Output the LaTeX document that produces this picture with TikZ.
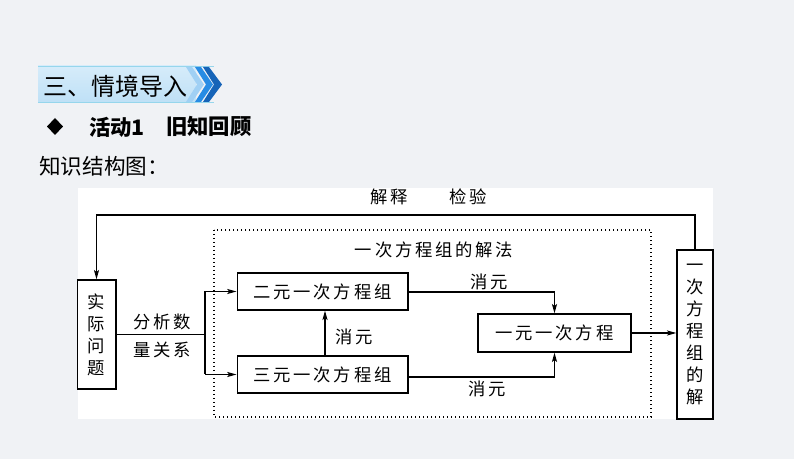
\documentclass[tikz,border=0pt]{standalone}
\usepackage{fontspec}
\setmainfont{Noto Sans CJK SC}
\newfontfamily\cjksp[LetterSpace=16]{Noto Sans CJK SC}
\newfontfamily\cjk{Noto Sans CJK SC}
\usetikzlibrary{arrows.meta}
\definecolor{bgc}{RGB}{240,242,245}
\definecolor{bannerA}{RGB}{214,236,250}
\definecolor{bannerB}{RGB}{190,224,246}
\definecolor{bannerline}{RGB}{150,214,236}
\definecolor{chevA}{RGB}{160,208,244}
\definecolor{chevB}{RGB}{40,140,228}
\definecolor{chevC}{RGB}{22,100,184}
\tikzset{
  box/.style={draw, line width=1pt, fill=white, inner sep=0pt, align=center,
    font=\cjksp\fontsize{13}{16.5}\selectfont},
  vbox/.style={draw, line width=1pt, fill=white, inner sep=0pt, align=center,
    font=\cjk\fontsize{13}{16.5}\selectfont},
  lbl/.style={inner sep=0pt, font=\cjksp\fontsize{13}{16.5}\selectfont},
  conn/.style={line width=0.8pt},
  arr/.style={line width=0.8pt, -{Stealth[length=7pt,width=3.8pt,inset=1.5pt]}},
}
\begin{document}
\begin{tikzpicture}[x=0.75pt,y=-0.75pt]
\useasboundingbox (0,0) rectangle (794,459);
\fill[bgc] (0,0) rectangle (794,459);
% banner
\shade[top color=bannerA, bottom color=bannerB] (38,66) rectangle (196,103);
\draw[bannerline, line width=1pt] (38,66.5) -- (214,66.5);
\draw[bannerline, line width=1pt] (38,102.5) -- (214,102.5);
\fill[chevC] (203,67) -- (209,67) -- (222,84.5) -- (209,102) -- (203,102) -- (214,84.5) -- cycle;
\fill[chevB] (195,67) -- (201,67) -- (213,84.5) -- (201,102) -- (195,102) -- (206,84.5) -- cycle;
\fill[chevA] (186,67) -- (192,67) -- (204,84.5) -- (192,102) -- (186,102) -- (197,84.5) -- cycle;
\node[anchor=west, inner sep=0pt, font=\cjk\fontsize{18}{18}\selectfont] (title) at (43,86) {三、情境导入};
% activity line
\fill (55,118) -- (63,126.5) -- (55,135) -- (47,126.5) -- cycle;
\node[anchor=west, inner sep=0pt, font=\cjk\bfseries\fontsize{16}{16}\selectfont] (act) at (89,127) {活动1};
\node[anchor=west, inner sep=0pt, font=\cjk\bfseries\fontsize{16}{16}\selectfont] (old) at (166,127) {旧知回顾};
\node[anchor=west, inner sep=0pt, font=\cjk\fontsize{16.2}{16}\selectfont] (kst) at (39,166) {知识结构图：};
% diagram area
\fill[white] (78,188) rectangle (713,419);
\draw[line width=1pt, dotted] (214,230) rectangle (651,417);
\node[lbl] (method) at (434,250) {一次方程组的解法};
\node[vbox, minimum width=29pt, minimum height=81.75pt] (shi) at (96.5,334.5) {实\\际\\问\\题};
\node[box, minimum width=128pt, minimum height=27.75pt] (er) at (322.5,291.5) {二元一次方程组};
\node[box, minimum width=128pt, minimum height=27.75pt] (san) at (322.5,374.5) {三元一次方程组};
\node[box, minimum width=114.75pt, minimum height=28.5pt] (yi) at (554.5,333) {一元一次方程};
\node[vbox, minimum width=27pt, minimum height=126.75pt] (jie) at (695,334.5) {一\\次\\方\\程\\组\\的\\解};
% feedback loop
\coordinate (tr) at (695,215);
\coordinate (tl) at (96.5,215);
\draw[arr] (jie.north) -- (tr) -- (tl) -- (shi.north);
\node[lbl] (jieshi) at (389,197) {解释};
\node[lbl] (jianyan) at (468,197) {检验};
% split
\coordinate (sp) at (205,334.5);
\coordinate (spu) at (205,291.5);
\coordinate (spd) at (205,374.5);
\draw[conn] (shi.east) -- (sp);
\draw[conn] (spu) -- (spd);
\draw[arr] (spu) -- (er.west);
\draw[arr] (spd) -- (san.west);
\node[lbl] (fx1) at (162,322) {分析数};
\node[lbl] (fx2) at (162,350) {量关系};
% elimination
\draw[arr] (san.north -| 325,0) -- (er.south -| 325,0);
\node[lbl] (xy1) at (354,337) {消元};
\coordinate (c1) at (554.5,292);
\coordinate (c2) at (554.5,377);
\draw[arr] (er.east |- c1) -- (c1) -- (yi.north);
\draw[arr] (san.east |- c2) -- (c2) -- (yi.south);
\node[lbl] (xy2) at (489,282) {消元};
\node[lbl] (xy3) at (487,389) {消元};
\draw[arr] (yi.east) -- (jie.west |- yi.east);
\end{tikzpicture}
\end{document}
